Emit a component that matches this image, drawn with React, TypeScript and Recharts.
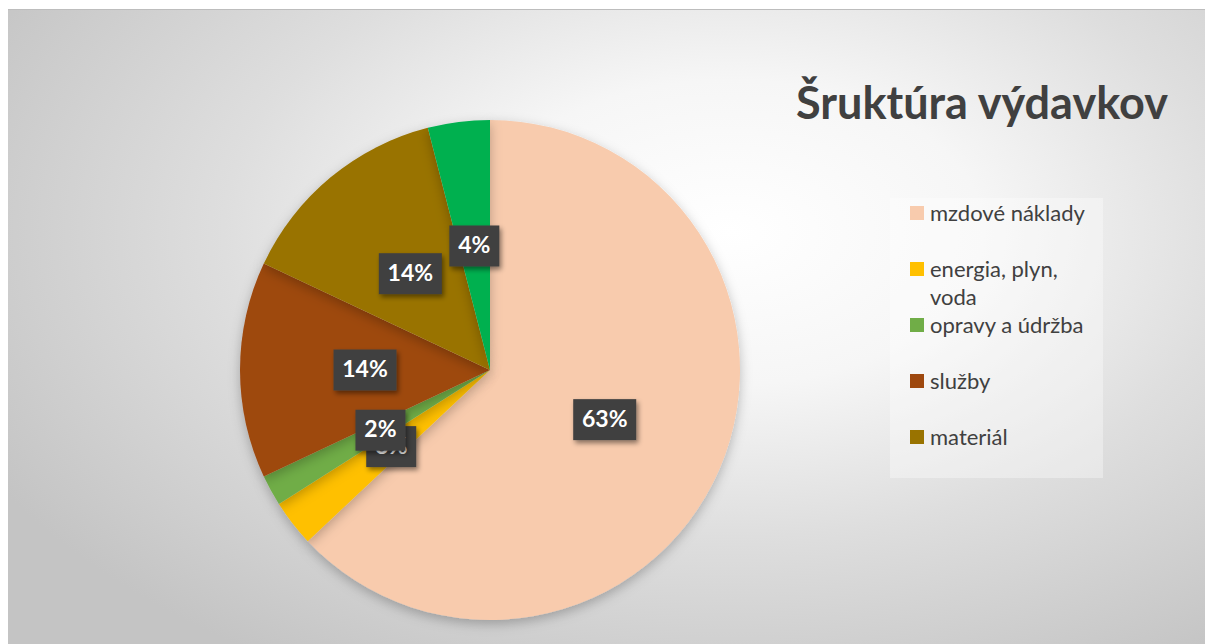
import { PieChart, Pie, Cell, Legend } from "recharts";

const categories = [
  "mzdové náklady",
  "energia, plyn, voda",
  "opravy a údržba",
  "služby",
  "materiál",
  "ostatné",
];
const shares = [63, 3, 2, 14, 14, 4];
const sliceColors = ["#F8CBAD", "#FFC000", "#70AD47", "#9E480E", "#997300", "#00B050"];
const legendNames = categories.slice(0, 5);

const data = categories.map((name, i) => ({ name, value: shares[i] }));

const RADIAN = Math.PI / 180;
const FONT = "Lato, 'Open Sans', sans-serif";

function renderLabel(props: any) {
  const { cx, cy, midAngle, outerRadius, value } = props;
  const r = outerRadius * 0.5;
  const x = cx + r * Math.cos(-midAngle * RADIAN);
  const y = cy + r * Math.sin(-midAngle * RADIAN);
  const text = `${value}%`;
  const w = 13 * text.length + 24;
  const h = 41;
  return (
    <g>
      <rect
        x={x - w / 2}
        y={y - h / 2}
        width={w}
        height={h}
        fill="#404040"
        filter="url(#lblShadow)"
      />
      <text
        x={x}
        y={y + 1}
        fill="#ffffff"
        fontFamily={FONT}
        fontWeight={700}
        fontSize={23}
        textAnchor="middle"
        dominantBaseline="middle"
      >
        {text}
      </text>
    </g>
  );
}

function renderLegend(props: any) {
  const items = (props.payload || [])
    .filter((p: any) => legendNames.includes(p.value))
    .sort((a: any, b: any) => legendNames.indexOf(a.value) - legendNames.indexOf(b.value));
  return (
    <div
      style={{
        width: 213,
        height: 280,
        background: "rgba(255,255,255,0.35)",
        paddingTop: 1,
        boxSizing: "border-box",
      }}
    >
      {items.map((p: any) => (
        <div
          key={p.value}
          style={{ display: "flex", alignItems: "flex-start", height: 56, paddingLeft: 20 }}
        >
          <span
            style={{
              width: 14,
              height: 14,
              background: p.color,
              marginTop: 7,
              marginRight: 6,
              flex: "none",
            }}
          />
          <span
            style={{
              fontFamily: FONT,
              fontSize: 22,
              lineHeight: "28px",
              color: "#404040",
              width: 162,
            }}
          >
            {p.value}
          </span>
        </div>
      ))}
    </div>
  );
}

export default function App() {
  return (
    <div
      style={{
        position: "relative",
        width: 1207,
        height: 635,
        marginLeft: -2,
        marginTop: 1,
        borderTop: "1px solid #bdbdbd",
        background:
          "radial-gradient(ellipse 70% 80% at 60% 35%, #ffffff 0%, #f6f6f6 30%, #dedede 60%, #c4c4c4 100%)",
        overflow: "hidden",
      }}
    >
      <svg width={0} height={0} style={{ position: "absolute" }}>
        <defs>
          <filter id="lblShadow" x="-30%" y="-30%" width="160%" height="170%">
            <feDropShadow dx={2} dy={3} stdDeviation={2.5} floodColor="#000" floodOpacity={0.45} />
          </filter>
          <filter id="pieShadow" x="-20%" y="-20%" width="140%" height="140%">
            <feDropShadow dx={0} dy={4} stdDeviation={6} floodColor="#000" floodOpacity={0.25} />
          </filter>
        </defs>
      </svg>
      <div
        style={{
          position: "absolute",
          left: 790,
          top: 65,
          fontFamily: FONT,
          fontWeight: 700,
          fontSize: 45,
          color: "#404040",
          whiteSpace: "nowrap",
        }}
      >
        Šruktúra výdavkov
      </div>
      <PieChart width={1207} height={635} margin={{ top: 0, right: 0, bottom: 0, left: 0 }}>
        <Pie
          data={data}
          dataKey="value"
          nameKey="name"
          cx={484}
          cy={360}
          outerRadius={250}
          startAngle={90}
          endAngle={-270}
          stroke="none"
          label={renderLabel}
          labelLine={false}
          isAnimationActive={false}
          style={{ filter: "url(#pieShadow)" }}
        >
          {data.map((d, i) => (
            <Cell key={d.name} fill={sliceColors[i]} />
          ))}
        </Pie>
        <Legend
          layout="vertical"
          content={renderLegend}
          wrapperStyle={{ position: "absolute", left: 884, top: 188, width: 213 }}
        />
      </PieChart>
    </div>
  );
}
